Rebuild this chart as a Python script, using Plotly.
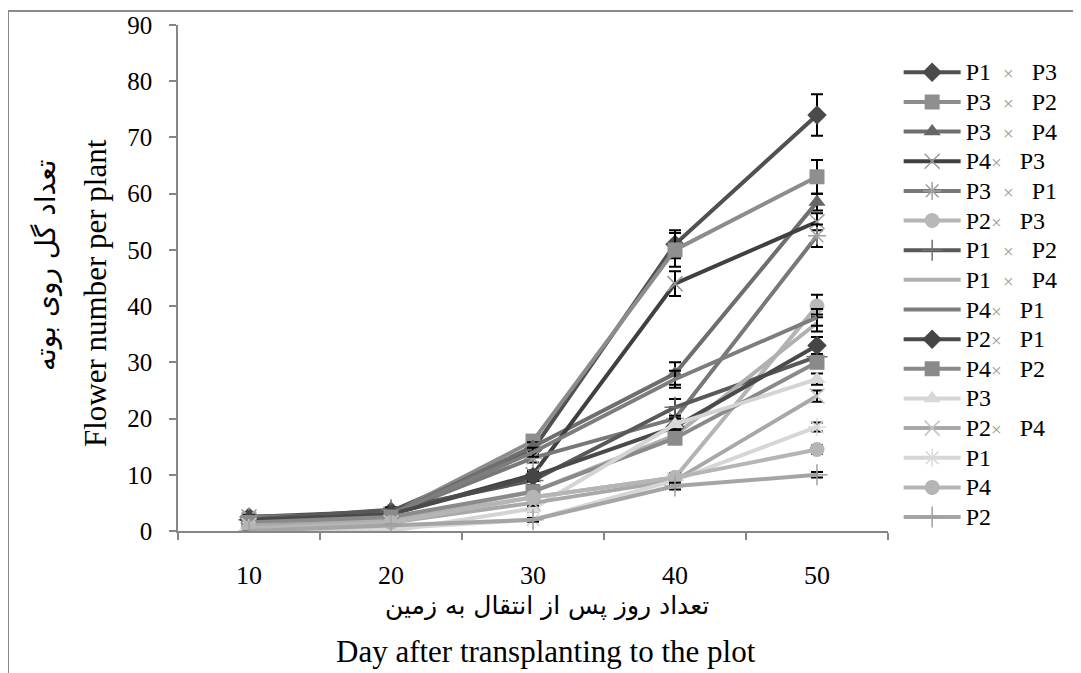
import plotly.graph_objects as go

days = [10, 20, 30, 40, 50]

series_names = ["P1 × P3", "P3 × P2", "P3 × P4", "P4× P3", "P3 × P1", "P2× P3", "P1 × P2",
                "P1 × P4", "P4× P1", "P2× P1", "P4× P2", "P3", "P2× P4", "P1", "P4", "P2"]

v_p1p3 = [2.5, 3.5, 14.5, 51, 74]
v_p3p2 = [2.0, 3.0, 16.0, 50, 63]
v_p3p4 = [2.0, 3.0, 15.0, 28, 58.5]
v_p4p3 = [2.5, 3.0, 10.0, 44, 55]
v_p3p1 = [2.5, 3.0, 13.0, 20, 52.5]
v_p2p3 = [1.0, 2.0, 6.0, 9.5, 40]
v_p1p2 = [2.0, 3.8, 9.0, 22, 31]
v_p1p4 = [1.0, 2.0, 7.0, 17, 37]
v_p4p1 = [2.0, 3.0, 14.0, 27, 38]
v_p2p1 = [2.0, 3.0, 9.7, 18.5, 33]
v_p4p2 = [1.5, 2.5, 7.0, 16.5, 30]
v_p3 = [0.0, 0.0, 4.0, 19, 27]
v_p2p4 = [1.0, 1.5, 5.0, 9, 24]
v_p1 = [0.5, 0.5, 2.0, 9, 18.5]
v_p4 = [0.5, 1.5, 6.0, 9.5, 14.5]
v_p2 = [0.0, 1.0, 2.0, 8, 10]

e_p1p3 = [0.3, 0.4, 1.0, 2.5, 3.7]
e_p3p2 = [0.3, 0.4, 1.0, 3.0, 3.0]
e_p3p4 = [0.3, 0.3, 0.8, 2.0, 1.5]
e_p4p3 = [0.3, 0.3, 0.8, 2.2, 1.5]
e_p3p1 = [0.3, 0.3, 0.8, 2.0, 2.0]
e_p2p3 = [0.2, 0.3, 0.6, 0.8, 2.0]
e_p1p2 = [0.3, 0.4, 0.8, 1.5, 1.5]
e_p1p4 = [0.2, 0.3, 0.6, 1.0, 1.5]
e_p4p1 = [0.2, 0.3, 0.8, 1.5, 1.5]
e_p2p1 = [0.3, 0.3, 0.8, 1.5, 1.5]
e_p4p2 = [0.2, 0.3, 0.6, 1.0, 1.0]
e_p3 = [0.0, 0.0, 0.5, 1.0, 1.0]
e_p2p4 = [0.2, 0.2, 0.5, 0.8, 1.0]
e_p1 = [0.1, 0.1, 0.3, 0.8, 0.8]
e_p4 = [0.1, 0.2, 0.5, 0.8, 0.8]
e_p2 = [0.0, 0.1, 0.3, 0.6, 0.5]

values = [v_p1p3, v_p3p2, v_p3p4, v_p4p3, v_p3p1, v_p2p3, v_p1p2, v_p1p4,
          v_p4p1, v_p2p1, v_p4p2, v_p3, v_p2p4, v_p1, v_p4, v_p2]
errors = [e_p1p3, e_p3p2, e_p3p4, e_p4p3, e_p3p1, e_p2p3, e_p1p2, e_p1p4,
          e_p4p1, e_p2p1, e_p4p2, e_p3, e_p2p4, e_p1, e_p4, e_p2]

y_ticks = [0, 10, 20, 30, 40, 50, 60, 70, 80, 90]

# styles: (line colour, marker symbol, marker colour, marker size)
styles = [
    ("#505050", "diamond", "#4a4a4a", 15),
    ("#8c8c8c", "square", "#8f8f8f", 15),
    ("#6e6e6e", "triangle-up", "#666666", 15),
    ("#404040", "x-thin-open", "#9a9a9a", 15),
    ("#787878", "asterisk-open", "#a0a0a0", 15),
    ("#b4b4b4", "circle", "#b8b8b8", 15),
    ("#595959", "cross-thin-open", "#707070", 15),
    ("#b0b0b0", None, None, 0),
    ("#7d7d7d", None, None, 0),
    ("#4a4a4a", "diamond", "#454545", 15),
    ("#8a8a8a", "square", "#8a8a8a", 15),
    ("#d4d4d4", "triangle-up", "#d8d8d8", 15),
    ("#a8a8a8", "x-thin-open", "#c4c4c4", 15),
    ("#d6d6d6", "asterisk-open", "#dadada", 15),
    ("#b5b5b5", "circle", "#b5b5b5", 15),
    ("#a5a5a5", "cross-thin-open", "#a0a0a0", 15),
]

NB = "\u00a0"


def legend_label(name):
    parts = name.split("×")
    if len(parts) == 1:
        inner = name
    else:
        a, b = parts
        gap_before = NB * 2 if a.endswith(" ") else ""
        inner = (a.strip() + gap_before +
                 "<span style='color:#9a9a9a;font-size:19px'>×</span>" + NB * 3 + b.strip())
    return "<span style='font-size:24px'>" + inner + "</span>"


fig = go.Figure()
for name, vals, errs, (lc, sym, mc, ms) in zip(series_names, values, errors, styles):
    marker = dict(size=0.1, opacity=0)
    mode = "lines"
    if sym is not None:
        mode = "lines+markers"
        if "thin" in sym or "asterisk" in sym:
            marker = dict(symbol=sym, size=ms, color=mc, line=dict(color=mc, width=1.5))
        else:
            marker = dict(symbol=sym, size=ms, color=mc, line=dict(width=0))
    fig.add_trace(go.Scatter(
        x=days, y=vals, name=legend_label(name), mode=mode,
        line=dict(color=lc, width=4),
        marker=marker,
        error_y=dict(type="data", array=errs, visible=True, color="black",
                     thickness=2, width=6),
    ))

fig.update_layout(
    width=1073, height=665,
    margin=dict(l=170, r=193, t=17, b=142, autoexpand=False),
    plot_bgcolor="white", paper_bgcolor="white",
    font=dict(family="Liberation Serif", color="black", size=20),
    showlegend=True,
    legend=dict(x=1.015, y=0.9457, xanchor="left", yanchor="top",
                font=dict(family="Liberation Serif", size=20.5, color="black"),
                itemwidth=57, tracegroupgap=0, bgcolor="rgba(0,0,0,0)"),
    xaxis=dict(range=[5, 55], tickvals=days, ticktext=[str(d) for d in days],
               ticks="", showgrid=False, zeroline=False, automargin=False,
               showline=True, linecolor="#868686", linewidth=1.5,
               ticklabelstandoff=20,
               tickfont=dict(family="Liberation Serif", size=26, color="black"),
               minor=dict(tickvals=[5, 15, 25, 35, 45, 55], ticks="outside",
                          ticklen=7, tickcolor="#868686", tickwidth=1.5)),
    yaxis=dict(range=[0, 90], tickvals=y_ticks, ticks="outside", ticklen=7,
               tickcolor="#868686", tickwidth=1.5, showgrid=False, zeroline=False,
               automargin=False,
               showline=True, linecolor="#868686", linewidth=1.5,
               ticklabelstandoff=12,
               tickfont=dict(family="Liberation Serif", size=25, color="black")),
)

# titles as annotations
fig.add_annotation(text="Flower number per plant", xref="paper", yref="paper",
                   x=(95 - 178) / 710, y=(531 - 293) / 506, showarrow=False,
                   xanchor="center", yanchor="middle",
                   textangle=-90, font=dict(family="Liberation Serif", size=31, color="black"))
fig.add_annotation(text="تعداد گل روی بوته", xref="paper", yref="paper",
                   x=(45 - 178) / 710, y=(531 - 265) / 506, showarrow=False,
                   xanchor="center", yanchor="middle",
                   textangle=-90, font=dict(family="DejaVu Sans", size=28, color="black"))
fig.add_annotation(text="تعداد روز پس از انتقال به زمین", xref="paper", yref="paper",
                   x=(547 - 178) / 710, y=(531 - 606) / 506, showarrow=False,
                   xanchor="center", yanchor="middle",
                   font=dict(family="DejaVu Sans", size=25, color="black"))
fig.add_annotation(text="Day after transplanting to the plot", xref="paper", yref="paper",
                   x=(546 - 178) / 710, y=(531 - 651) / 506, showarrow=False,
                   xanchor="center", yanchor="middle",
                   font=dict(family="Liberation Serif", size=31, color="black"))

# outer frame (left and top edges)
fig.add_shape(type="line", xref="paper", yref="paper",
              x0=(8 - 178) / 710, x1=(8 - 178) / 710, y0=(531 - 673) / 506, y1=(531 - 11) / 506,
              line=dict(color="#8a8a8a", width=2))
fig.add_shape(type="line", xref="paper", yref="paper",
              x0=(8 - 178) / 710, x1=(1081 - 178) / 710, y0=(531 - 11) / 506, y1=(531 - 11) / 506,
              line=dict(color="#8a8a8a", width=2))

fig.write_html("out.html")
